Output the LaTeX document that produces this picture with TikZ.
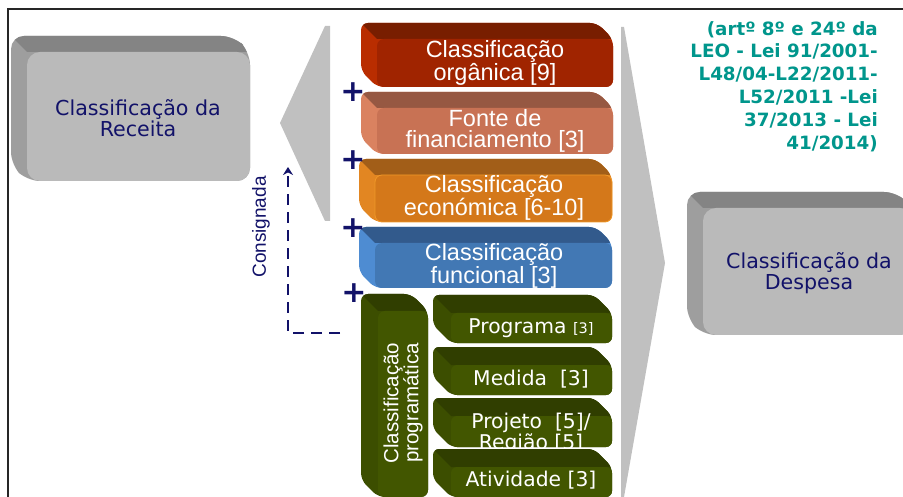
\documentclass[tikz,border=0pt]{standalone}
\usepackage{fontspec}
\setmainfont{DejaVu Sans}
\newfontfamily\arialf{Liberation Sans}
\newfontfamily\verdf{DejaVu Sans}
\usetikzlibrary{arrows.meta}

\definecolor{navy}{RGB}{18,18,105}
\definecolor{tealtxt}{RGB}{0,150,140}
\definecolor{chev}{RGB}{192,192,192}
\definecolor{greyF}{RGB}{186,186,186}
\definecolor{greyT}{RGB}{132,132,132}
\definecolor{greyS}{RGB}{158,158,158}
\definecolor{redF}{RGB}{160,36,0}
\definecolor{redT}{RGB}{120,30,0}
\definecolor{redS}{RGB}{185,45,0}
\definecolor{salF}{RGB}{200,114,84}
\definecolor{salT}{RGB}{150,88,66}
\definecolor{salS}{RGB}{218,130,96}
\definecolor{oraF}{RGB}{212,120,26}
\definecolor{oraT}{RGB}{162,94,24}
\definecolor{oraS}{RGB}{226,134,34}
\definecolor{oraL}{RGB}{240,152,40}
\definecolor{bluF}{RGB}{66,120,180}
\definecolor{bluT}{RGB}{50,90,140}
\definecolor{bluS}{RGB}{78,140,210}
\definecolor{grnF}{RGB}{66,86,0}
\definecolor{grnT}{RGB}{48,62,0}
\definecolor{grnS}{RGB}{60,78,0}

% #1 x1, #2 y1, #3 x2, #4 y2 (front face), #5 depth, #6 side, #7 top, #8 front, #9 corner radius
\newcommand{\threed}[9]{%
  \fill[#6,rounded corners=#9] (#1-#5,#2-#5) -- (#3-#5,#2-#5) -- (#3,#2) -- (#3,#4) -- (#1,#4) -- (#1-#5,#4-#5) -- cycle;
  \begin{scope}
    \clip[rounded corners=#9] (#1-#5,#2-#5) -- (#3-#5,#2-#5) -- (#3,#2) -- (#3,#4) -- (#1,#4) -- (#1-#5,#4-#5) -- cycle;
    \fill[#7] (#1-#5-3,#2-#5-3) -- (#3-#5+3,#2-#5-3) -- (#3+3,#2) -- (#1,#2) -- cycle;
  \end{scope}
  \fill[#8,rounded corners=#9] (#1,#2) rectangle (#3,#4);
}

\tikzset{
  greytxt/.style={text=navy,font=\verdf\fontsize{20.6}{21}\selectfont,align=center,inner sep=0pt},
  boxtxt/.style={text=white,font=\arialf\fontsize{23.5}{21.5}\selectfont,align=center,inner sep=0pt},
  subtxt/.style={text=white,font=\verdf\fontsize{20.3}{19.5}\selectfont,align=center,inner sep=0pt},
  plussign/.style={text=navy,font=\verdf\bfseries\fontsize{30}{30}\selectfont,inner sep=0pt},
}

\begin{document}
\begin{tikzpicture}[x=1pt,y=-1pt]
\path[use as bounding box] (0,0) rectangle (903,497);
\fill[white] (0,0) rectangle (903,497);
\draw[line width=2.2pt,black!85] (8,510) -- (8,9) -- (915,9);

% big grey chevrons
\fill[chev] (325,26) -- (330,26) -- (330,221) -- (325,221) -- (280,123) -- cycle;
\fill[chev] (621,27) -- (624,27) -- (665,263) -- (624,497) -- (621,497) -- cycle;

% Receita / Despesa boxes
\threed{27}{52}{250}{181}{16}{greyS}{greyT}{greyF}{13pt}
\node[greytxt] (receita) at (138,118) {Classificação da\\Receita};
\threed{703}{208}{913}{335}{16}{greyS}{greyT}{greyF}{13pt}
\node[greytxt] (despesa) at (809,273) {Classificação da\\Despesa};

% coloured boxes
\threed{377}{39}{613}{87}{16}{redS}{redT}{redF}{7pt}
\node[boxtxt] (org) at (495,63) {Classificação\\orgânica [9]};
\threed{377}{108}{613}{154}{16}{salS}{salT}{salF}{7pt}
\node[boxtxt] (fonte) at (495,131) {Fonte de\\financiamento [3]};
\threed{375}{175}{612}{222}{16}{oraS}{oraT}{oraF}{7pt}
\draw[oraL,line width=0.8pt,rounded corners=7pt] (375,175) rectangle (612,222);
\node[boxtxt] (econ) at (494,198) {Classificação\\económica [6-10]};
\threed{375}{243}{612}{288}{16}{bluS}{bluT}{bluF}{7pt}
\node[boxtxt] (func) at (494,266) {Classificação\\funcional [3]};

% programatica
\threed{378}{311}{428}{497}{17}{grnS}{grnT}{grnF}{7pt}
\node[boxtxt,font=\arialf\fontsize{20.5}{20}\selectfont,rotate=90] (prog) at (403,403) {Classificação\\programática};

\threed{451}{313}{612}{343}{18}{grnS}{grnT}{grnF}{6pt}
\node[subtxt] (programa) at (531,328) {Programa {\fontsize{14.5}{14}\selectfont[3]}};
\threed{451}{365}{612}{395}{18}{grnS}{grnT}{grnF}{6pt}
\node[subtxt] (medida) at (531,379) {Medida~~[3]};
\threed{451}{416}{612}{447}{18}{grnS}{grnT}{grnF}{6pt}
\node[subtxt] (projeto) at (531,433) {Projeto~~[5]/\\Região [5]};
\threed{451}{467}{612}{497}{18}{grnS}{grnT}{grnF}{6pt}
\node[subtxt] (ativ) at (531,480) {Atividade [3]};

% plus signs
\node[plussign] (p1) at (353,92) {+};
\node[plussign] (p2) at (353,160) {+};
\node[plussign] (p3) at (353,228) {+};
\node[plussign] (p4) at (354,293) {+};

% consignada arrow
\coordinate (cstart) at (340,333);
\coordinate (ctip) at (288,167);
\draw[navy,line width=2.8pt,dash pattern=on 11pt off 7pt,-{Stealth[length=8pt,width=10pt]}] (cstart) -| (ctip);
\node[text=navy,font=\arialf\fontsize{19}{19}\selectfont,rotate=90,inner sep=0pt] (consig) at (261,227) {Consignada};

% legal reference
\node[text=tealtxt,font=\verdf\bfseries\fontsize{18.3}{22.8}\selectfont,align=right,anchor=north east,inner sep=0pt] (leg) at (878,21) {(artº 8º e 24º da\\LEO - Lei 91/2001-\\L48/04-L22/2011-\\L52/2011 -Lei\\37/2013 - Lei\\41/2014)};
\end{tikzpicture}
\end{document}
